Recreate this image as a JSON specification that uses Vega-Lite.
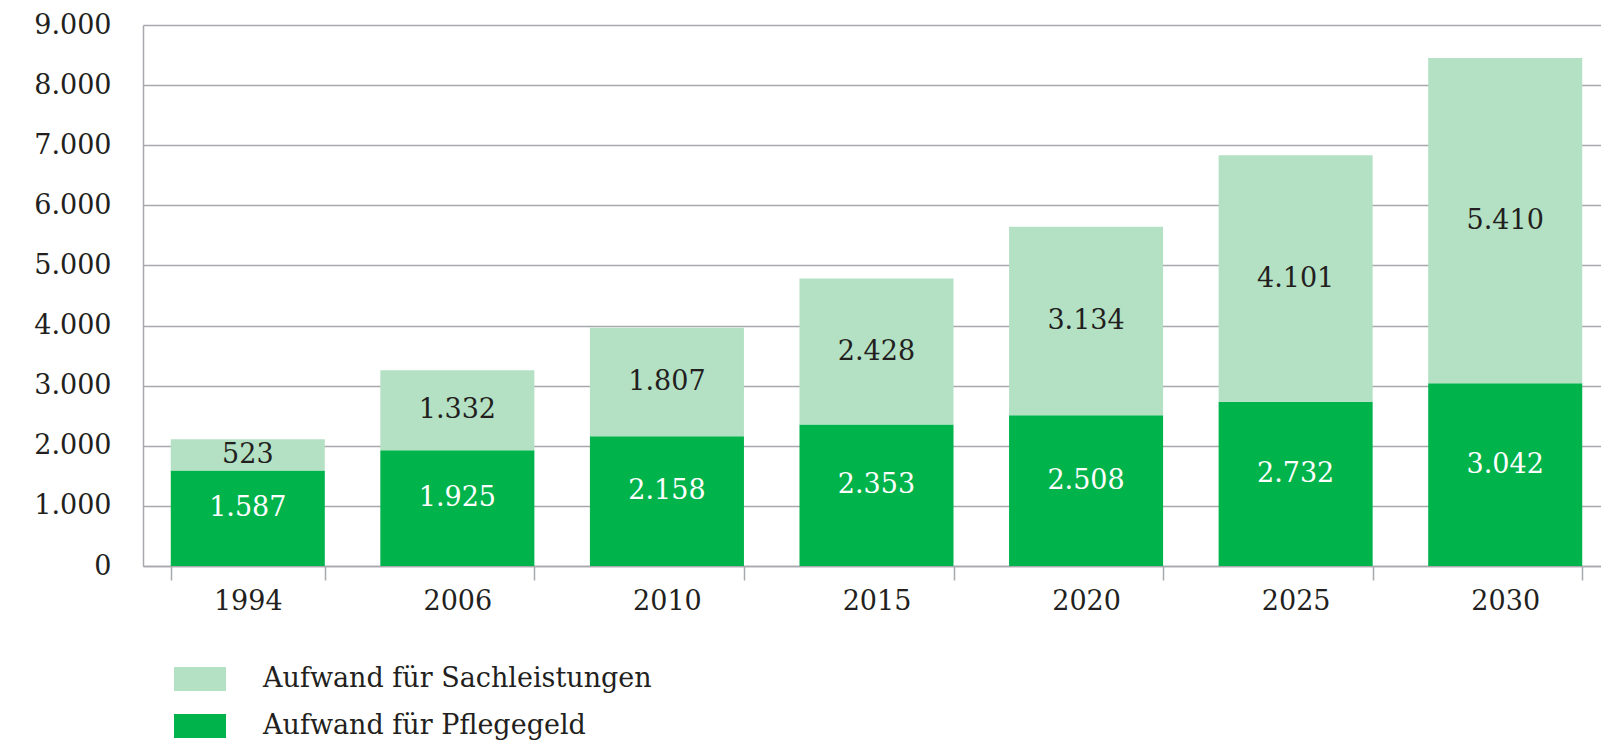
{
  "$schema": "https://vega.github.io/schema/vega-lite/v6.json",
  "width": 1467,
  "height": 541,
  "autosize": {"type": "none"},
  "padding": {"left": 143, "top": 25, "right": 0, "bottom": 175},
  "config": {
    "view": {"stroke": null},
    "font": "DejaVu Serif",
    "locale": {"number": {"decimal": ",", "thousands": ".", "grouping": [3], "currency": ["", " €"]}}
  },
  "data": {
    "values": [
      {"year": "1994", "type": "Aufwand für Pflegegeld", "value": 1587},
      {"year": "1994", "type": "Aufwand für Sachleistungen", "value": 523},
      {"year": "2006", "type": "Aufwand für Pflegegeld", "value": 1925},
      {"year": "2006", "type": "Aufwand für Sachleistungen", "value": 1332},
      {"year": "2010", "type": "Aufwand für Pflegegeld", "value": 2158},
      {"year": "2010", "type": "Aufwand für Sachleistungen", "value": 1807},
      {"year": "2015", "type": "Aufwand für Pflegegeld", "value": 2353},
      {"year": "2015", "type": "Aufwand für Sachleistungen", "value": 2428},
      {"year": "2020", "type": "Aufwand für Pflegegeld", "value": 2508},
      {"year": "2020", "type": "Aufwand für Sachleistungen", "value": 3134},
      {"year": "2025", "type": "Aufwand für Pflegegeld", "value": 2732},
      {"year": "2025", "type": "Aufwand für Sachleistungen", "value": 4101},
      {"year": "2030", "type": "Aufwand für Pflegegeld", "value": 3042},
      {"year": "2030", "type": "Aufwand für Sachleistungen", "value": 5410}
    ]
  },
  "encoding": {
    "x": {
      "field": "year",
      "type": "ordinal",
      "scale": {"paddingInner": 0.265, "paddingOuter": 0.1325},
      "axis": {
        "title": null,
        "labelAngle": 0,
        "labelFont": "DejaVu Serif",
        "labelFontSize": 27,
        "labelColor": "#231f20",
        "domainColor": "#a6a9ad",
        "domainWidth": 1.5,
        "tickColor": "#a6a9ad",
        "tickWidth": 1.5,
        "tickSize": 14,
        "tickBand": "extent",
        "labelPadding": 8,
        "grid": false
      }
    }
  },
  "layer": [
    {
      "mark": {"type": "bar"},
      "encoding": {
        "y": {
          "field": "value",
          "type": "quantitative",
          "stack": "zero",
          "scale": {"domain": [0, 9000], "nice": false},
          "axis": {
            "title": null,
            "values": [0, 1000, 2000, 3000, 4000, 5000, 6000, 7000, 8000, 9000],
            "format": ",d",
            "ticks": false,
            "labelFont": "DejaVu Serif",
            "labelFontSize": 27,
            "labelColor": "#231f20",
            "labelPadding": 32,
            "domainColor": "#a6a9ad",
            "domainWidth": 1.5,
            "gridColor": "#a6a9ad",
            "gridWidth": 1.5
          }
        },
        "order": {"field": "type", "type": "nominal", "sort": "ascending"},
        "color": {
          "field": "type",
          "type": "nominal",
          "scale": {
            "domain": ["Aufwand für Pflegegeld", "Aufwand für Sachleistungen"],
            "range": ["#00B34B", "#B4E1C4"]
          },
          "legend": {
            "values": ["Aufwand für Sachleistungen", "Aufwand für Pflegegeld"],
            "title": null,
            "orient": "none",
            "legendX": 31,
            "legendY": 628,
            "padding": 0,
            "symbolType": "M-1,-0.46L1,-0.46L1,0.46L-1,0.46Z",
            "symbolSize": 2704,
            "symbolStrokeWidth": 0,
            "symbolOpacity": 1,
            "labelFont": "DejaVu Serif",
            "labelFontSize": 27,
            "labelColor": "#231f20",
            "labelOffset": 37,
            "rowPadding": 8,
            "labelLimit": 800
          }
        }
      }
    },
    {
      "transform": [
        {"stack": "value", "groupby": ["year"], "sort": [{"field": "type"}], "as": ["v0", "v1"]},
        {"fold": ["v0", "v1"], "as": ["edge", "pos"]},
        {"aggregate": [{"op": "mean", "field": "pos", "as": "mid"}], "groupby": ["year", "type", "value"]},
        {"filter": "datum.type == 'Aufwand für Pflegegeld'"}
      ],
      "mark": {"type": "text", "color": "#ffffff", "fontSize": 27, "font": "DejaVu Serif", "dy": -10},
      "encoding": {
        "y": {"field": "mid", "type": "quantitative"},
        "text": {"field": "value", "type": "quantitative", "format": ",d"}
      }
    },
    {
      "transform": [
        {"stack": "value", "groupby": ["year"], "sort": [{"field": "type"}], "as": ["v0", "v1"]},
        {"fold": ["v0", "v1"], "as": ["edge", "pos"]},
        {"aggregate": [{"op": "mean", "field": "pos", "as": "mid"}], "groupby": ["year", "type", "value"]},
        {"filter": "datum.type == 'Aufwand für Sachleistungen'"}
      ],
      "mark": {"type": "text", "color": "#231f20", "fontSize": 27, "font": "DejaVu Serif"},
      "encoding": {
        "y": {"field": "mid", "type": "quantitative"},
        "text": {"field": "value", "type": "quantitative", "format": ",d"}
      }
    }
  ]
}
